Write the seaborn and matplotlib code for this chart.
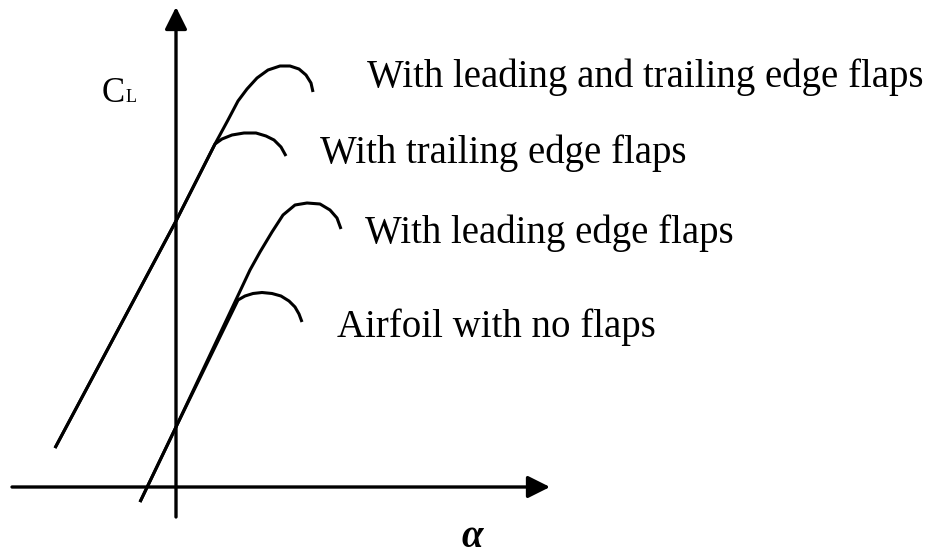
import pandas as pd
import matplotlib.pyplot as plt
import seaborn as sns

# lift curves (alpha in arbitrary deg, CL arbitrary)
lt_alpha = [-6.05, 0.0, 1.95, 2.6, 3.1, 3.55, 4.05, 4.6, 5.2, 5.7, 6.15, 6.5, 6.75, 6.85]
lt_cl = [0.195, 1.33, 1.715, 1.835, 1.93, 1.99, 2.045, 2.085, 2.105, 2.105, 2.09, 2.06, 2.02, 1.975]

te_alpha = [-6.05, 0.0, 1.95, 2.3, 2.8, 3.4, 4.0, 4.5, 4.9, 5.25, 5.5]
te_cl = [0.195, 1.33, 1.715, 1.74, 1.76, 1.77, 1.77, 1.755, 1.735, 1.70, 1.655]

le_alpha = [-1.8, 0.0, 3.7, 4.2, 4.8, 5.35, 5.95, 6.55, 7.2, 7.7, 8.05, 8.25]
le_cl = [-0.075, 0.30, 1.085, 1.175, 1.275, 1.36, 1.41, 1.42, 1.415, 1.385, 1.345, 1.29]

nf_alpha = [-1.8, 0.0, 3.1, 3.45, 3.85, 4.3, 4.8, 5.25, 5.65, 5.95, 6.15, 6.3]
nf_cl = [-0.075, 0.30, 0.935, 0.955, 0.9675, 0.9725, 0.9675, 0.955, 0.93, 0.90, 0.865, 0.825]

curve_names = ['With leading and trailing edge flaps', 'With trailing edge flaps',
               'With leading edge flaps', 'Airfoil with no flaps']
label_pos = [(9.55, 2.0), (7.2, 1.62), (9.45, 1.22), (8.05, 0.75)]

frames = []
for name, a, c in zip(curve_names, [lt_alpha, te_alpha, le_alpha, nf_alpha],
                      [lt_cl, te_cl, le_cl, nf_cl]):
    frames.append(pd.DataFrame({'alpha': a, 'CL': c, 'curve': name}))
df = pd.concat(frames, ignore_index=True)

sns.set_theme(style='white')
serif = ['Liberation Serif', 'DejaVu Serif']

fig = plt.figure(figsize=(9.32, 5.55), dpi=100)
ax = fig.add_axes([0, 0, 1, 1])
ax.set_xlim(-8.8, 37.8)
ax.set_ylim(-0.34, 2.435)
ax.axis('off')

sns.lineplot(data=df, x='alpha', y='CL', units='curve', estimator=None, sort=False,
             color='black', lw=2.2, ax=ax, solid_joinstyle='round', solid_capstyle='butt')

# axes with arrow heads
arrow = dict(arrowstyle='-|>,head_length=0.9,head_width=0.45', lw=2.4, color='black',
             mutation_scale=15, shrinkA=0, shrinkB=0)
ax.annotate('', xy=(0, 2.40), xytext=(0, -0.15), arrowprops=arrow)
ax.annotate('', xy=(18.7, 0), xytext=(-8.2, 0), arrowprops=arrow)

for name, (x, y) in zip(curve_names, label_pos):
    ax.text(x, y, name, fontsize=28, family=serif, ha='left', va='baseline', color='black')

ax.text(-3.7, 1.925, 'C', fontsize=25, family=serif, ha='left', va='baseline', color='black')
ax.text(-2.5, 1.925, 'L', fontsize=13, family=serif, ha='left', va='baseline', color='black')
ax.text(14.8, -0.3, 'α', fontsize=28, family=serif, weight='bold', style='italic',
        ha='center', va='baseline', color='black')

fig.savefig('out.png', dpi=100)
